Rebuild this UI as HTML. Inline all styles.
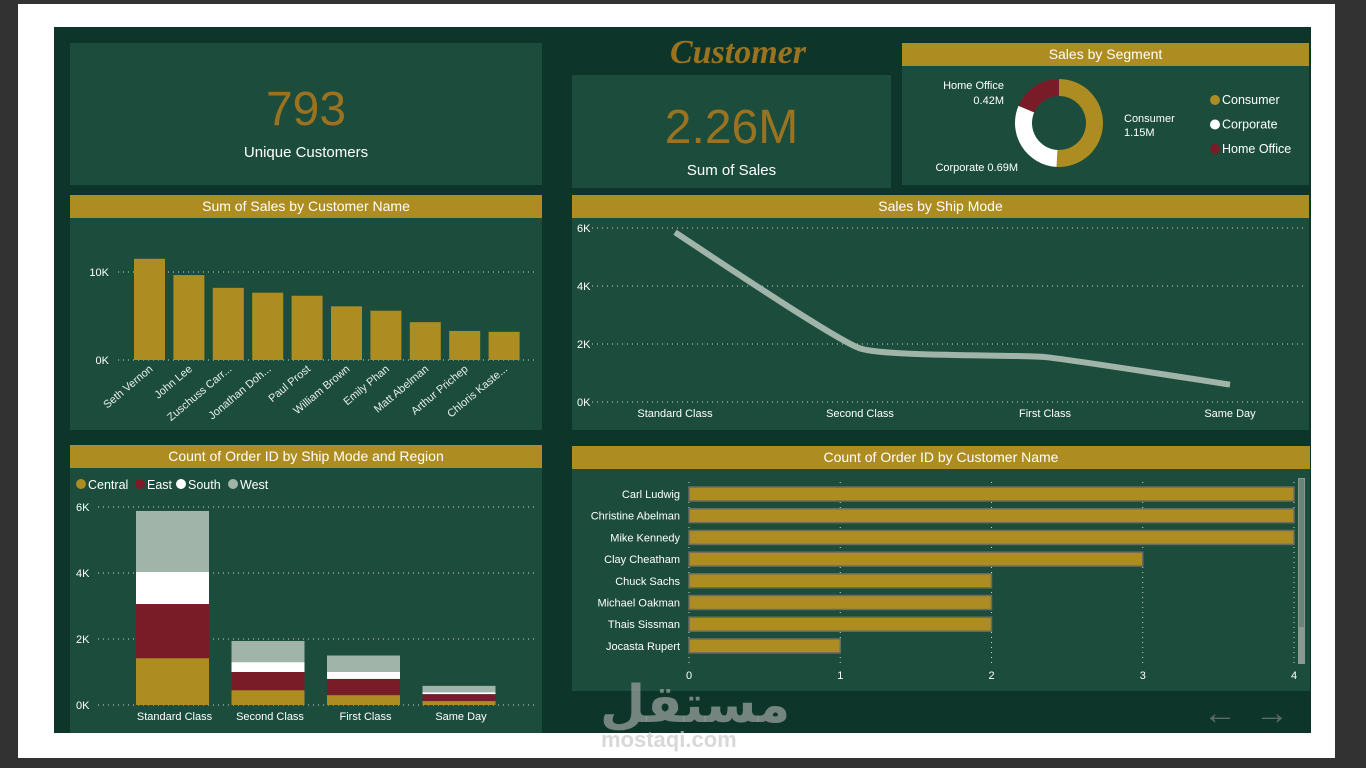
<!DOCTYPE html>
<html><head><meta charset="utf-8">
<style>
body{margin:0;width:1366px;height:768px;background:#323232;position:relative;overflow:hidden;font-family:"Liberation Sans","Noto Sans CJK SC",sans-serif;}
.abs{position:absolute;}
.panel{position:absolute;background:#1c4d3c;}
.hdr{position:absolute;left:0;right:0;top:0;height:23px;background:#ad8c22;color:#fff;font-size:14px;text-align:center;line-height:23px;}
svg text{font-family:"Liberation Sans",sans-serif;}
</style></head><body>
<div class="abs" style="left:18px;top:4px;width:1317px;height:754px;background:#fff"></div>
<div class="abs" style="left:54px;top:27px;width:1257px;height:706px;background:#0d3529"></div>

<div class="panel" style="left:70px;top:43px;width:472px;height:142px">
 <div class="abs" style="left:0;right:0;top:40px;text-align:center;color:#9b7320;font-size:48px;line-height:54px">793</div>
 <div class="abs" style="left:0;right:0;top:101px;text-align:center;color:#fff;font-size:15px">Unique Customers</div>
</div>
<div class="abs" style="left:572px;width:332px;top:34px;text-align:center;color:#9b7320;font-size:34px;font-style:italic;font-weight:bold;font-family:'Liberation Serif',serif">Customer</div>
<div class="panel" style="left:572px;top:75px;width:319px;height:113px">
 <div class="abs" style="left:0;right:0;top:26px;text-align:center;color:#9b7320;font-size:48px;line-height:54px">2.26M</div>
 <div class="abs" style="left:0;right:0;top:87px;text-align:center;color:#fff;font-size:15px">Sum of Sales</div>
</div>

<div class="panel" style="left:902px;top:43px;width:407px;height:142px">
 <div class="hdr">Sales by Segment</div>
 <svg id="donut" class="abs" style="left:0;top:0" width="407" height="142"></svg>
</div>

<div class="panel" style="left:70px;top:195px;width:472px;height:235px">
 <div class="hdr">Sum of Sales by Customer Name</div>
</div>
<div class="panel" style="left:572px;top:195px;width:737px;height:235px">
 <div class="hdr">Sales by Ship Mode</div>
</div>
<div class="panel" style="left:70px;top:445px;width:472px;height:288px">
 <div class="hdr">Count of Order ID by Ship Mode and Region</div>
</div>
<div class="panel" style="left:572px;top:446px;width:738px;height:245px">
 <div class="hdr">Count of Order ID by Customer Name</div>
</div>

<svg id="main" class="abs" style="left:0;top:0" width="1366" height="768"></svg>

<div class="abs" style="left:600px;top:662px;color:rgba(150,160,155,0.75);font-size:52px;font-weight:bold;font-family:'Noto Sans CJK SC','DejaVu Sans',sans-serif">مستقل</div>
<div class="abs" style="left:601px;top:727px;color:rgba(200,200,200,0.7);font-size:22px;font-weight:bold">mostaqi.com</div>
<div class="abs" style="left:1203px;top:694px;color:#5e6a66;font-size:34px">&#8592;</div>
<div class="abs" style="left:1255px;top:694px;color:#5e6a66;font-size:34px">&#8594;</div>

<script>
const NS="http://www.w3.org/2000/svg";
const GOLD="#ad8c22",RED="#7a1c27",WHITE="#ffffff",SAGE="#a1b4aa";
function mk(parent,tag,attrs,text){const e=document.createElementNS(NS,tag);for(const k in attrs)e.setAttribute(k,attrs[k]);if(text!==undefined)e.textContent=text;parent.appendChild(e);return e;}
const svg=document.getElementById('main');

// ---- Sum of Sales by Customer ----
const custNames=["Seth Vernon","John Lee","Zuschuss Carr...","Jonathan Doh...","Paul Prost","William Brown","Emily Phan","Matt Abelman","Arthur Prichep","Chloris Kaste..."];
const custSales=[11.5,9.65,8.2,7.65,7.3,6.1,5.6,4.3,3.3,3.2];
const custTicks=[0,10];
{
 const y0=360,per=8.8,x0=126,step=39.4,bw=31;
 const ys=v=>y0-v*per;
 custTicks.forEach(t=>{
  const g=mk(svg,'line',{x1:118,x2:537,y1:ys(t),y2:ys(t),stroke:'#c8d4ce','stroke-dasharray':'1 4','stroke-width':1});
  
  const tx=mk(svg,'text',{x:109,y:ys(t)+4,fill:'#fff','font-size':11,'text-anchor':'end'},t+'K');
  
 });
 custSales.forEach((v,i)=>{
  const x=x0+8+i*step;
  const r=mk(svg,'rect',{x:x,y:ys(v),width:bw,height:v*per,fill:GOLD});
  
  const cx=x+bw/2+4,cy=370;
  const t=mk(svg,'text',{x:cx,y:cy,fill:'#e8eeea','font-size':11,'text-anchor':'end',transform:`rotate(-40 ${cx} ${cy})`},custNames[i]);
  
 });
}

// ---- Sales by Ship Mode (line) ----
const shipModes=["Standard Class","Second Class","First Class","Same Day"];
const shipSales=[5.85,1.85,1.55,0.6];
const shipTicks=[0,2,4,6];
{
 const y0=402,per=29,xs=i=>675+i*185;
 const ys=v=>y0-v*per;
 shipTicks.forEach(t=>{
  const g=mk(svg,'line',{x1:592,x2:1305,y1:ys(t),y2:ys(t),stroke:'#c8d4ce','stroke-dasharray':'1 4'});
  
  const tx=mk(svg,'text',{x:577,y:ys(t)+4,fill:'#fff','font-size':11},t+'K');
  
 });
 const pts=shipSales.map((v,i)=>[xs(i),ys(v)]);
 let d=`M${pts[0][0]},${pts[0][1]}`;
 for(let i=0;i<pts.length-1;i++){
  const p0=pts[i-1]||pts[i],p1=pts[i],p2=pts[i+1],p3=pts[i+2]||p2,k=0.07;
  d+=` C${p1[0]+(p2[0]-p0[0])*k},${p1[1]+(p2[1]-p0[1])*k} ${p2[0]-(p3[0]-p1[0])*k},${p2[1]-(p3[1]-p1[1])*k} ${p2[0]},${p2[1]}`;
 }
 const p=mk(svg,'path',{d:d,fill:'none',stroke:SAGE,'stroke-width':6});
 
 shipModes.forEach((m,i)=>{
  const t=mk(svg,'text',{x:xs(i),y:417,fill:'#fff','font-size':11,'text-anchor':'middle'},m);
  
 });
}

// ---- Stacked orders by region ----
const regions=["Central","East","South","West"];
const regionColors=[GOLD,RED,WHITE,SAGE];
const centralVals=[1.42,0.45,0.3,0.12];
const eastVals=[1.64,0.55,0.49,0.21];
const southVals=[0.97,0.3,0.21,0.06];
const westVals=[1.85,0.64,0.5,0.19];
const regionTicks=[0,2,4,6];
{
 const y0=705,per=33,xs=i=>136+i*95.5,bw=73;
 const ys=v=>y0-v*per;
 regionTicks.forEach(t=>{
  const g=mk(svg,'line',{x1:98,x2:537,y1:ys(t),y2:ys(t),stroke:'#c8d4ce','stroke-dasharray':'1 4'});
  
  const tx=mk(svg,'text',{x:76,y:ys(t)+4,fill:'#fff','font-size':11},t+'K');
  
 });
 const series=[centralVals,eastVals,southVals,westVals];
 shipModes.forEach((m,i)=>{
  let acc=0;
  series.forEach((s,j)=>{
   const r=mk(svg,'rect',{x:xs(i),y:ys(acc+s[i]),width:bw,height:s[i]*per,fill:regionColors[j]});
   
   acc+=s[i];
  });
  const t=mk(svg,'text',{x:xs(i)+bw/2+2,y:720,fill:'#fff','font-size':11,'text-anchor':'middle'},m);
  
 });
 const legX=[76,135,176,228];
 regions.forEach((r,j)=>{
  const lx=legX[j];
  const c=mk(svg,'circle',{cx:lx+5,cy:484,r:5,fill:regionColors[j]});
  
  const t=mk(svg,'text',{x:lx+12,y:489,fill:'#fff','font-size':12.5},r);
  
 });
}

// ---- Count of Order by Customer (horizontal) ----
const orderNames=["Carl Ludwig","Christine Abelman","Mike Kennedy","Clay Cheatham","Chuck Sachs","Michael Oakman","Thais Sissman","Jocasta Rupert"];
const orderCounts=[4,4,4,3,2,2,2,1];
const orderTicks=[0,1,2,3,4];
{
 const x0=689,per=151.25,yc=i=>494+i*21.7,bh=14;
 orderTicks.forEach(t=>{
  const g=mk(svg,'line',{x1:x0+t*per,x2:x0+t*per,y1:482,y2:664,stroke:'#c8d4ce','stroke-dasharray':'1 4'});
  
  const tx=mk(svg,'text',{x:x0+t*per,y:679,fill:'#fff','font-size':11,'text-anchor':'middle'},t);
  
 });
 orderCounts.forEach((v,i)=>{
  const r=mk(svg,'rect',{x:x0,y:yc(i)-bh/2,width:v*per,height:bh,fill:GOLD,stroke:'#6b6b5e','stroke-width':1.5});
  
  const t=mk(svg,'text',{x:680,y:yc(i)+4,fill:'#fff','font-size':11,'text-anchor':'end'},orderNames[i]);
  
 });
 const sb=mk(svg,'rect',{x:1298,y:478,width:7,height:186,fill:'#8a9a92'});
 
 const st=mk(svg,'rect',{x:1299,y:479,width:5,height:148,fill:'#6a8278'});
 
}

// ---- Donut ----
const segNames=["Consumer","Corporate","Home Office"];
const segValues=[1.15,0.69,0.42];
const segColors=[GOLD,WHITE,RED];
{
 const d=document.getElementById('donut');
 const cx=157,cy=80,R=44,r=27,tot=segValues.reduce((a,b)=>a+b,0);
 let a=-Math.PI/2;
 segValues.forEach((v,i)=>{
  const b=a+v/tot*2*Math.PI,lg=(b-a)>Math.PI?1:0;
  const P=(rad,ang)=>[cx+rad*Math.cos(ang),cy+rad*Math.sin(ang)];
  const [x1,y1]=P(R,a),[x2,y2]=P(R,b),[x3,y3]=P(r,b),[x4,y4]=P(r,a);
  const p=mk(d,'path',{d:`M${x1},${y1} A${R},${R} 0 ${lg} 1 ${x2},${y2} L${x3},${y3} A${r},${r} 0 ${lg} 0 ${x4},${y4}Z`,fill:segColors[i]});
  
  a=b;
 });
 const lbl=[[222,79,'start','Consumer'],[222,93,'start','1.15M'],[102,46,'end','Home Office'],[102,61,'end','0.42M'],[116,128,'end','Corporate 0.69M']];
 lbl.forEach(l=>{
  const t=mk(d,'text',{x:l[0],y:l[1],fill:'#fff','font-size':11,'text-anchor':l[2]},l[3]);
  
 });
 segNames.forEach((n,i)=>{
  const c=mk(d,'circle',{cx:313,cy:57+i*24.5,r:5,fill:segColors[i]});
  
  const t=mk(d,'text',{x:320,y:61+i*24.5,fill:'#fff','font-size':12.5},n);
  
 });
}
</script>
</body></html>
